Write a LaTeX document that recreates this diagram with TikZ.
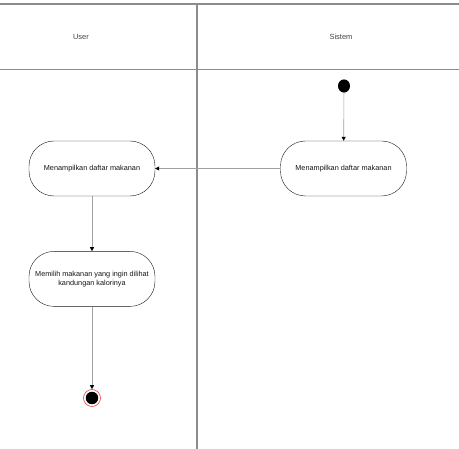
\documentclass[tikz,border=0pt]{standalone}
\usepackage{fontspec}
\setmainfont{Liberation Sans}
\usetikzlibrary{arrows.meta,positioning}
\definecolor{lane}{RGB}{140,140,140}
\definecolor{wire}{RGB}{160,160,160}
\definecolor{ink}{RGB}{20,20,20}
\definecolor{endred}{RGB}{230,60,60}
\begin{document}
\begin{tikzpicture}[x=1pt,y=-1pt,
          act/.style={draw=ink,rectangle,rounded corners=25pt,minimum width=126pt,minimum height=55pt,
                      inner sep=0pt,font=\fontsize{7.3}{9}\selectfont,align=center,text=ink},
          hdr/.style={font=\fontsize{7.5}{9}\selectfont,text=ink!80},
          ar/.style={-{Triangle[length=4pt,width=4pt,color=black]},draw=wire,semithick},
          lanel/.style={draw=lane,line width=1.2pt},
          node distance=55pt
        ]
        \useasboundingbox (0,0) rectangle (459,449);
        % swimlanes
        \draw[lanel] (0,4) -- (459,4);
        \draw[lanel] (0,69.5) -- (459,69.5);
        \draw[lanel] (197,4) -- (197,449);
        \node[hdr] (user) at (81,37) {User};
        \node[hdr] (sistem) at (341,37) {Sistem};
        % nodes
        \node[circle,fill=black,minimum width=12pt,inner sep=0pt,yscale=1.1] (start) at (344,86) {};
        \node[act] (s1) at (343.5,168.5) {Menampilkan daftar makanan};
        \node[act] (u1) at (92,168.5) {Menampilkan daftar makanan};
        \node[act,below=of u1] (u2) {Memilih makanan yang ingin dilihat\\kandungan kalorinya};
        \node[circle,draw=endred,semithick,fill=white,minimum size=17pt,inner sep=0pt] (stop) at (92,398) {};
        \node[circle,fill=black,minimum size=12.5pt,inner sep=0pt] at (stop) {};
        % flows
        \draw[ar] (start) -- (s1);
        \draw[ar] (s1) -- (u1);
        \draw[ar] (u1) -- (u2);
        \draw[ar] (u2) -- (stop);
      \end{tikzpicture}
\end{document}
